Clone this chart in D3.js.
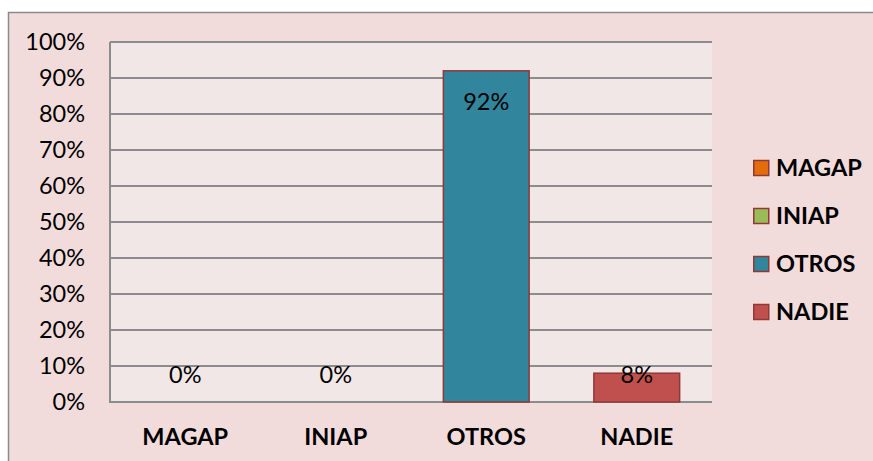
<!DOCTYPE html>
<html><head><meta charset="utf-8">
<script src="https://cdn.jsdelivr.net/npm/d3@7"></script>
<style>html,body{margin:0;padding:0;background:#fff;overflow:hidden}</style>
</head><body>
<script>
const categories = ["MAGAP", "INIAP", "OTROS", "NADIE"];
const values = [0, 0, 92, 8];
const colors = ["#e46c0a", "#9bbb59", "#31859c", "#c0504d"];
const yTicks = [0, 10, 20, 30, 40, 50, 60, 70, 80, 90, 100];

const W = 873, H = 461;
const svg = d3.select("body").append("svg").attr("width", W).attr("height", H);
const font = "Lato, 'Open Sans', sans-serif";
const fs = 23.5;

// outer chart area
svg.append("rect").attr("x", 8.5).attr("y", 12.5).attr("width", W + 10).attr("height", H + 10)
  .attr("fill", "#f2dcdb").attr("stroke", "#8a8a8a").attr("stroke-width", 1.5);

const L = 110, R = 712, T = 42, B = 402;
const x = d3.scaleBand().domain(categories).range([L, R]).paddingInner(0.43).paddingOuter(0.215);
const y = d3.scaleLinear().domain([0, 100]).range([B, T]);

svg.append("rect").attr("x", L).attr("y", T).attr("width", R - L).attr("height", B - T).attr("fill", "#f2e7e7");

// gridlines
svg.append("g").selectAll("line").data(yTicks).join("line")
  .attr("x1", L).attr("x2", R).attr("y1", d => y(d)).attr("y2", d => y(d))
  .attr("stroke", "#8c8c8c").attr("stroke-width", 2);
// left axis line
svg.append("line").attr("x1", L).attr("x2", L).attr("y1", T).attr("y2", B + 1)
  .attr("stroke", "#8c8c8c").attr("stroke-width", 2);

// y tick labels
svg.append("g").selectAll("text").data(yTicks).join("text")
  .attr("x", L - 25).attr("y", d => y(d)).attr("dy", "0.35em").attr("text-anchor", "end")
  .attr("font-family", font).attr("font-size", fs).attr("fill", "#000").text(d => d + "%");

// bars
svg.append("g").selectAll("rect").data(values).join("rect")
  .attr("x", (d, i) => x(categories[i])).attr("width", x.bandwidth())
  .attr("y", d => y(d)).attr("height", d => y(0) - y(d))
  .attr("fill", (d, i) => colors[i]).attr("stroke", (d) => d > 0 ? "#8e3a38" : "none").attr("stroke-width", 1.5);

// value labels
svg.append("g").selectAll("text").data(values).join("text")
  .attr("x", (d, i) => x(categories[i]) + x.bandwidth() / 2)
  .attr("y", d => Math.min(y(d) + 31, y(0) - 27)).attr("dy", "0.35em").attr("text-anchor", "middle")
  .attr("font-family", font).attr("font-size", fs).attr("fill", "#000").text(d => d + "%");

// category labels
svg.append("g").selectAll("text").data(categories).join("text")
  .attr("x", d => x(d) + x.bandwidth() / 2).attr("y", 437).attr("dy", "0.35em").attr("text-anchor", "middle")
  .attr("font-family", font).attr("font-size", fs).attr("font-weight", "bold").attr("fill", "#000").text(d => d);

// legend
const lg = svg.append("g").selectAll("g").data(categories).join("g")
  .attr("transform", (d, i) => `translate(753, ${168 + i * 48})`);
lg.append("rect").attr("x", 0.75).attr("y", -7.5).attr("width", 15).attr("height", 15)
  .attr("fill", (d, i) => colors[i]).attr("stroke", "#8e3a38").attr("stroke-width", 1.5);
lg.append("text").attr("x", 23).attr("y", 0).attr("dy", "0.35em")
  .attr("font-family", font).attr("font-size", fs).attr("font-weight", "bold").attr("fill", "#000").text(d => d);
</script>
</body></html>
